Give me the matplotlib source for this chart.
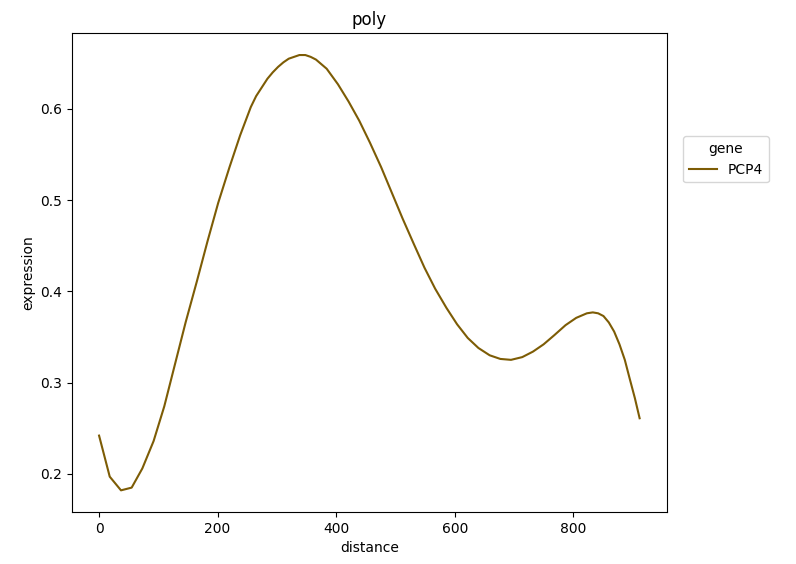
import matplotlib
matplotlib.use('Agg')
import matplotlib.pyplot as plt

# values
distance = [0, 18, 37, 55, 73, 92, 110, 128, 146, 165, 183, 201, 220, 238, 256,
            265, 275, 284, 293, 302, 311, 320, 329, 338, 348, 357, 366, 375, 384,
            403, 421, 439, 457, 476, 494, 512, 531, 549, 567, 586, 604, 622, 640,
            659, 677, 695, 714, 732, 750, 768, 787, 805, 823, 833, 842, 851, 860,
            869, 878, 887, 895, 904, 912]
expression = [0.242, 0.197, 0.182, 0.185, 0.206, 0.236, 0.274, 0.320, 0.366, 0.411,
              0.455, 0.497, 0.536, 0.571, 0.602, 0.614, 0.624, 0.633, 0.640, 0.646,
              0.651, 0.655, 0.657, 0.659, 0.659, 0.657, 0.654, 0.649, 0.644, 0.627,
              0.608, 0.587, 0.563, 0.536, 0.508, 0.480, 0.452, 0.426, 0.403, 0.382,
              0.364, 0.349, 0.338, 0.330, 0.326, 0.325, 0.328, 0.334, 0.342, 0.352,
              0.363, 0.371, 0.376, 0.377, 0.376, 0.373, 0.366, 0.356, 0.342, 0.325,
              0.305, 0.283, 0.261]
gene = 'PCP4'

fig = plt.figure(figsize=(7.96, 5.64), dpi=100)
ax = fig.add_axes([0.0905, 0.092, 0.747, 0.849])
ax.plot(distance, expression, color='#7d5c05', linewidth=1.5, label=gene)
ax.set_xticks([0, 200, 400, 600, 800])
ax.set_yticks([0.2, 0.3, 0.4, 0.5, 0.6])
ax.set_xlabel('distance')
ax.set_ylabel('expression')
ax.set_title('poly')
ax.legend(title='gene', loc='upper left', bbox_to_anchor=(1.028, 0.785), borderaxespad=0)

fig.savefig('out.png', dpi=100)
